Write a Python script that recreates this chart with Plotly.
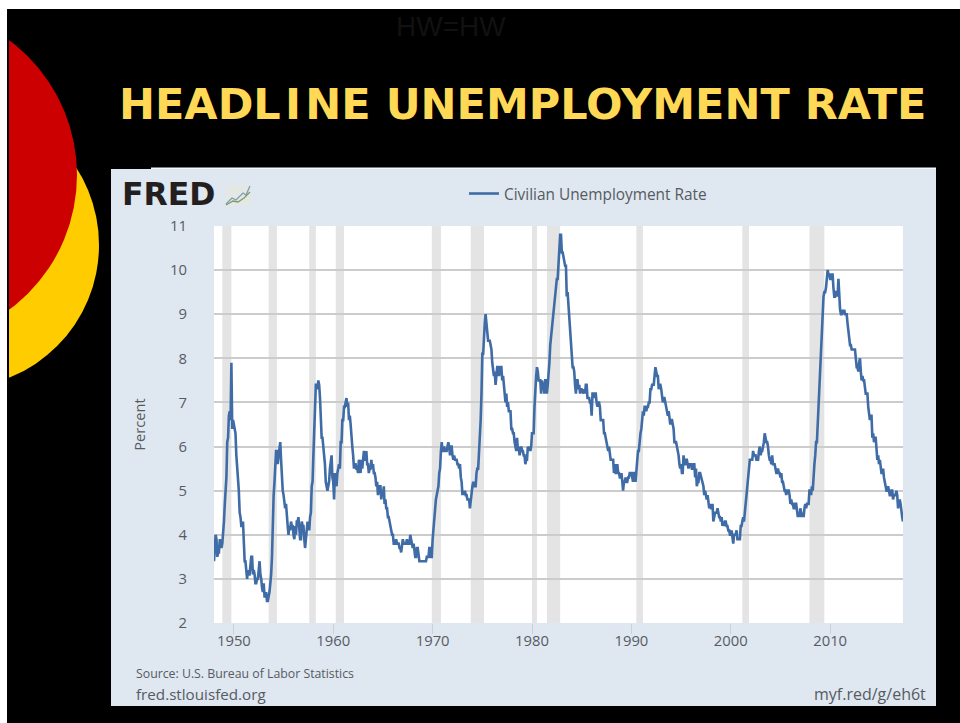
import plotly.graph_objects as go

W, H = 960, 723
L, R, T, B = 214, 903, 226, 623

years_start = 1948
unrate_by_year = [
 [3.4,3.8,4.0,3.9,3.5,3.6,3.6,3.9,3.8,3.7,3.8,4.0],
 [4.3,4.7,5.0,5.3,6.1,6.2,6.7,6.8,6.6,7.9,6.4,6.6],
 [6.5,6.4,6.3,5.8,5.5,5.4,5.0,4.5,4.4,4.2,4.2,4.3],
 [3.7,3.4,3.4,3.1,3.0,3.2,3.1,3.1,3.3,3.5,3.5,3.1],
 [3.2,3.1,2.9,2.9,3.0,3.0,3.2,3.4,3.1,3.0,2.8,2.7],
 [2.9,2.6,2.6,2.7,2.5,2.5,2.6,2.7,2.9,3.1,3.5,4.5],
 [4.9,5.2,5.7,5.9,5.9,5.6,5.8,6.0,6.1,5.7,5.3,5.0],
 [4.9,4.7,4.6,4.7,4.3,4.2,4.0,4.2,4.1,4.3,4.2,4.2],
 [4.0,3.9,4.2,4.0,4.3,4.3,4.4,4.1,3.9,3.9,4.3,4.2],
 [4.2,3.9,3.7,3.9,4.1,4.3,4.2,4.1,4.4,4.5,5.1,5.2],
 [5.8,6.4,6.7,7.4,7.4,7.3,7.5,7.4,7.1,6.7,6.2,6.2],
 [6.0,5.9,5.6,5.2,5.1,5.0,5.1,5.2,5.5,5.7,5.8,5.3],
 [5.2,4.8,5.4,5.2,5.1,5.4,5.5,5.6,5.5,6.1,6.1,6.6],
 [6.6,6.9,6.9,7.0,7.1,6.9,7.0,6.6,6.7,6.5,6.1,6.0],
 [5.8,5.5,5.6,5.6,5.5,5.5,5.4,5.7,5.6,5.4,5.7,5.5],
 [5.7,5.9,5.7,5.7,5.9,5.6,5.6,5.4,5.5,5.5,5.7,5.5],
 [5.6,5.4,5.4,5.3,5.1,5.2,4.9,5.0,5.1,5.1,4.8,5.0],
 [4.9,5.1,4.7,4.8,4.6,4.6,4.4,4.4,4.3,4.2,4.1,4.0],
 [4.0,3.8,3.8,3.8,3.9,3.8,3.8,3.8,3.7,3.7,3.6,3.8],
 [3.9,3.8,3.8,3.8,3.8,3.9,3.8,3.8,3.8,4.0,3.9,3.8],
 [3.7,3.8,3.7,3.5,3.5,3.7,3.7,3.5,3.4,3.4,3.4,3.4],
 [3.4,3.4,3.4,3.4,3.4,3.5,3.5,3.5,3.7,3.7,3.5,3.5],
 [3.9,4.2,4.4,4.6,4.8,4.9,5.0,5.1,5.4,5.5,5.9,6.1],
 [5.9,5.9,6.0,5.9,5.9,5.9,6.0,6.1,6.0,5.8,6.0,6.0],
 [5.8,5.7,5.8,5.7,5.7,5.7,5.6,5.6,5.5,5.6,5.3,5.2],
 [4.9,5.0,4.9,5.0,4.9,4.9,4.8,4.8,4.8,4.6,4.8,4.9],
 [5.1,5.2,5.1,5.1,5.1,5.4,5.5,5.5,5.9,6.0,6.6,7.2],
 [8.1,8.1,8.6,8.8,9.0,8.8,8.6,8.4,8.4,8.4,8.3,8.2],
 [7.9,7.7,7.6,7.7,7.4,7.6,7.8,7.8,7.6,7.7,7.8,7.8],
 [7.5,7.6,7.4,7.2,7.0,7.2,6.9,7.0,6.8,6.8,6.8,6.4],
 [6.4,6.3,6.3,6.1,6.0,5.9,6.2,5.9,6.0,5.8,5.9,6.0],
 [5.9,5.9,5.8,5.8,5.6,5.7,5.7,6.0,5.9,6.0,5.9,6.0],
 [6.3,6.3,6.3,6.9,7.5,7.6,7.8,7.7,7.5,7.5,7.5,7.2],
 [7.5,7.4,7.4,7.2,7.5,7.5,7.2,7.4,7.6,7.9,8.3,8.5],
 [8.6,8.9,9.0,9.3,9.4,9.6,9.8,9.8,10.1,10.4,10.8,10.8],
 [10.4,10.4,10.3,10.2,10.1,10.1,9.4,9.5,9.2,8.8,8.5,8.3],
 [8.0,7.8,7.8,7.7,7.4,7.2,7.5,7.5,7.3,7.4,7.2,7.3],
 [7.3,7.2,7.2,7.3,7.2,7.4,7.4,7.1,7.1,7.1,7.0,7.0],
 [6.7,7.2,7.2,7.1,7.2,7.2,7.0,6.9,7.0,7.0,6.9,6.6],
 [6.6,6.6,6.6,6.3,6.3,6.2,6.1,6.0,5.9,6.0,5.8,5.7],
 [5.7,5.7,5.7,5.4,5.6,5.4,5.4,5.6,5.4,5.4,5.3,5.3],
 [5.4,5.2,5.0,5.2,5.2,5.3,5.2,5.2,5.3,5.3,5.4,5.4],
 [5.4,5.3,5.2,5.4,5.4,5.2,5.5,5.7,5.9,5.9,6.2,6.3],
 [6.4,6.6,6.8,6.7,6.9,6.9,6.8,6.9,6.9,7.0,7.0,7.3],
 [7.3,7.4,7.4,7.4,7.6,7.8,7.7,7.6,7.6,7.3,7.4,7.4],
 [7.3,7.1,7.0,7.1,7.1,7.0,6.9,6.8,6.7,6.8,6.6,6.5],
 [6.6,6.6,6.5,6.4,6.1,6.1,6.1,6.0,5.9,5.8,5.6,5.5],
 [5.6,5.4,5.4,5.8,5.6,5.6,5.7,5.7,5.6,5.5,5.6,5.6],
 [5.6,5.5,5.5,5.6,5.6,5.3,5.5,5.1,5.2,5.2,5.4,5.4],
 [5.3,5.2,5.2,5.1,4.9,5.0,4.9,4.8,4.9,4.7,4.6,4.7],
 [4.6,4.6,4.7,4.3,4.4,4.5,4.5,4.5,4.6,4.5,4.4,4.4],
 [4.3,4.4,4.2,4.3,4.2,4.3,4.3,4.2,4.2,4.1,4.1,4.0],
 [4.0,4.1,4.0,3.8,4.0,4.0,4.0,4.1,3.9,3.9,3.9,3.9],
 [4.2,4.2,4.3,4.4,4.3,4.5,4.6,4.9,5.0,5.3,5.5,5.7],
 [5.7,5.7,5.7,5.9,5.8,5.8,5.8,5.7,5.7,5.7,5.9,6.0],
 [5.8,5.9,5.9,6.0,6.1,6.3,6.2,6.1,6.1,6.0,5.8,5.7],
 [5.7,5.6,5.8,5.6,5.6,5.6,5.5,5.4,5.4,5.5,5.4,5.4],
 [5.3,5.4,5.2,5.2,5.1,5.0,5.0,4.9,5.0,5.0,5.0,4.9],
 [4.7,4.8,4.7,4.7,4.6,4.6,4.7,4.7,4.5,4.4,4.5,4.4],
 [4.6,4.5,4.4,4.5,4.4,4.6,4.7,4.6,4.7,4.7,4.7,5.0],
 [5.0,4.9,5.1,5.0,5.4,5.6,5.8,6.1,6.1,6.5,6.8,7.3],
 [7.8,8.3,8.7,9.0,9.4,9.5,9.5,9.6,9.8,10.0,9.9,9.9],
 [9.8,9.8,9.9,9.9,9.6,9.4,9.4,9.5,9.5,9.4,9.8,9.3],
 [9.1,9.0,9.0,9.1,9.0,9.1,9.0,9.0,9.0,8.8,8.6,8.5],
 [8.3,8.3,8.2,8.2,8.2,8.2,8.2,8.0,7.8,7.8,7.7,7.9],
 [8.0,7.7,7.5,7.6,7.5,7.5,7.3,7.2,7.2,7.2,6.9,6.7],
 [6.6,6.7,6.7,6.2,6.3,6.1,6.2,6.2,5.9,5.7,5.8,5.6],
 [5.7,5.5,5.4,5.4,5.5,5.3,5.2,5.1,5.0,5.0,5.1,5.0],
 [4.9,4.9,5.0,5.0,4.8,4.9,4.9,4.9,5.0,4.9,4.6,4.7],
 [4.8,4.7,4.5,4.4,4.3],
]
recessions = [("1948-11-01","1949-10-01"),("1953-07-01","1954-05-01"),("1957-08-01","1958-04-01"),
              ("1960-04-01","1961-02-01"),("1969-12-01","1970-11-01"),("1973-11-01","1975-03-01"),
              ("1980-01-01","1980-07-01"),("1981-07-01","1982-11-01"),("1990-07-01","1991-03-01"),
              ("2001-03-01","2001-11-01"),("2007-12-01","2009-06-01")]
dates, values = [], []
for i, row in enumerate(unrate_by_year):
    for m, v in enumerate(row):
        dates.append(f"{years_start+i}-{m+1:02d}-01"); values.append(v)

SERIES = "Civilian Unemployment Rate"
TITLE = "HEADL\u200aI\u200aNE UNEMPLOYMENT RATE"
TXT = "#565b62"
FONT = "Open Sans"
px = lambda x: (x - L) / (R - L)
py = lambda y: (B - y) / (B - T)

def rect(x0, y0, x1, y1, c, layer="below"):
    return dict(type="rect", xref="paper", yref="paper", x0=px(x0), x1=px(x1), y0=py(y0), y1=py(y1),
                fillcolor=c, line_width=0, layer=layer)
def circ(x0, y0, x1, y1, c):
    return dict(type="circle", xref="paper", yref="paper", x0=px(x0), x1=px(x1), y0=py(y0), y1=py(y1),
                fillcolor=c, line_width=0, layer="below")
def path(pts, c, w=1.3):
    d = "M" + " L".join(f"{px(a):.5f},{py(b):.5f}" for a, b in pts)
    return dict(type="path", xref="paper", yref="paper", path=d, line=dict(color=c, width=w), layer="below")

shapes = [
    circ(-44-143, 245-143, 99, 245+143, "#ffcc00"),
    circ(-91-168, 175-168, 77, 175+168, "#cc0000"),
    rect(0, 0, 9, 723, "#000000"),
    rect(0, 0, 7, 723, "#ffffff"),
    rect(0, 0, 960, 9, "#ffffff"),
    rect(111, 169, 936, 706, "#dfe7f0"),
    rect(151, 167.5, 936, 169, "#f4f6f8"),
    rect(226, 185, 251, 206, "#e3e8e4"),
    path([(226,204),(232,198),(236,200),(243,193),(246,195),(250,186)], "#7f9db5"),
    path([(226,205),(233,201),(238,202),(244,198),(250,192)], "#7f9a6a"),
    rect(L, T, R, B, "#ffffff"),
]
for a, b in recessions:
    shapes.append(dict(type="rect", xref="x", yref="paper", x0=a, x1=b, y0=0, y1=1,
                       fillcolor="#e4e4e4", line_width=0, layer="below"))

def ann(x, y, text, size, color=TXT, anchor="left", family=FONT):
    return dict(xref="paper", yref="paper", x=px(x), y=py(y), text=text, showarrow=False,
                xanchor=anchor, yanchor="middle", font=dict(size=size, color=color, family=family))

annotations = [
    ann(451, 26, "HW=HW", 28, "#111111", "center", "Liberation Sans"),
    ann(117, 104, f"<b>{TITLE}</b>", 43, "#ffd955", "left", "DejaVu Sans"),
    ann(120, 194, "<b>FRED</b>", 31.5, "#231f20", "left", "DejaVu Sans"),
    ann(134, 673, "Source: U.S. Bureau of Labor Statistics", 12.3),
    ann(134, 694, "fred.stlouisfed.org", 15.2),
    ann(928, 694, "myf.red/g/eh6t", 16, anchor="right"),
]

fig = go.Figure(go.Scatter(x=dates, y=values, mode="lines", name=SERIES,
                           line=dict(color="#3f6ca6", width=2.6), showlegend=True))
fig.update_layout(
    width=W, height=H, paper_bgcolor="#000000", plot_bgcolor="rgba(0,0,0,0)",
    margin=dict(l=L, r=W-R, t=T, b=H-B, autoexpand=False),
    font=dict(family=FONT, color=TXT, size=14.8),
    shapes=shapes, annotations=annotations,
    legend=dict(x=px(464), y=py(194), xanchor="left", yanchor="middle", bgcolor="rgba(0,0,0,0)",
                font=dict(size=15.4, color=TXT, family=FONT), itemwidth=30),
    xaxis=dict(type="date", range=["1948-01-01","2017-05-01"], tick0="1950-01-01", dtick="M120",
               tickformat="%Y", showgrid=False, ticks="outside", ticklen=10, tickcolor="#c8d0d8",
               ticklabelstandoff=-6, showline=False, zeroline=False),
    yaxis=dict(range=[2, 11], dtick=1, tick0=2, gridcolor="#cccccc", gridwidth=1.5, showline=False,
               zeroline=False, ticks="", ticklabelstandoff=26,
               title=dict(text="Percent", standoff=20, font=dict(size=14.6))),
)
fig.write_html("out.html", config=dict(displayModeBar=False),
               post_script="document.body.style.margin='0';document.documentElement.style.overflow='hidden';")
